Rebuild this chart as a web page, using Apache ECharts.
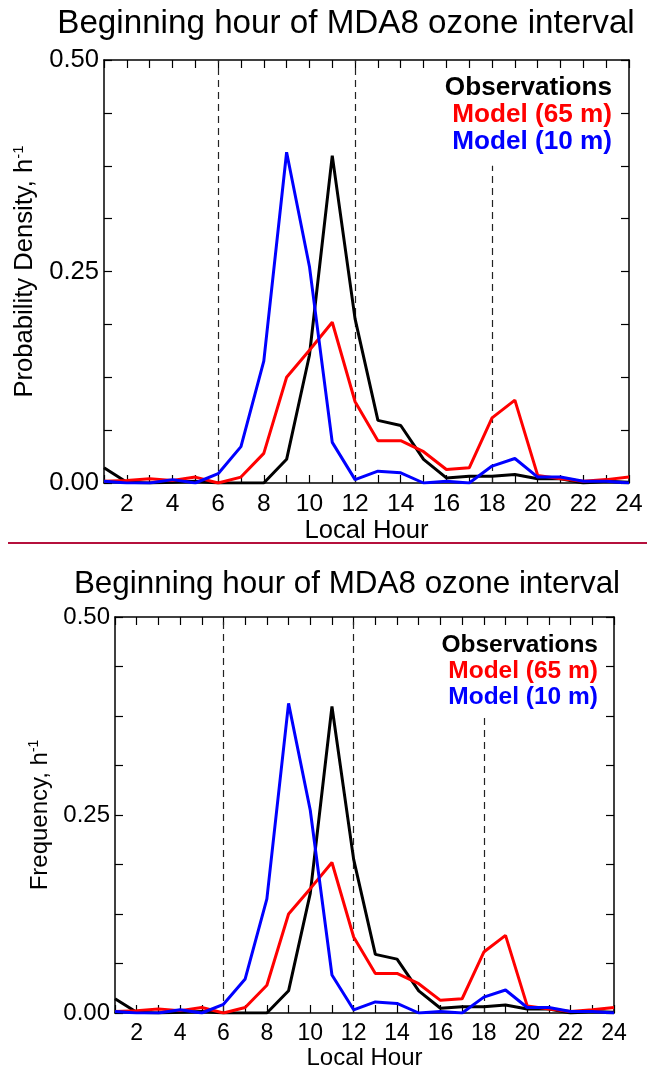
<!DOCTYPE html>
<html>
<head>
<meta charset="utf-8">
<script src="https://cdn.jsdelivr.net/npm/echarts@6/dist/echarts.min.js"></script>
<style>
  html, body { margin: 0; padding: 0; background: #fff; }
  #chart { width: 647px; height: 1081px; }
</style>
</head>
<body>
<div id="chart"></div>
<script>
// data (same values in both panels)
const hours = [1, 2, 3, 4, 5, 6, 7, 8, 9, 10, 11, 12, 13, 14, 15, 16, 17, 18, 19, 20, 21, 22, 23, 24];
const observations = [0.018, 0.001, 0.000, 0.001, 0.002, 0.000, 0.000, 0.000, 0.028, 0.151, 0.387, 0.194, 0.074, 0.068, 0.028, 0.006, 0.008, 0.008, 0.010, 0.005, 0.005, 0.000, 0.002, 0.001];
const model65 = [0.002, 0.003, 0.005, 0.003, 0.007, 0.000, 0.007, 0.035, 0.125, 0.157, 0.190, 0.096, 0.050, 0.050, 0.037, 0.016, 0.018, 0.077, 0.098, 0.009, 0.005, 0.002, 0.004, 0.007];
const model10 = [0.002, 0.000, 0.000, 0.004, 0.000, 0.011, 0.043, 0.144, 0.391, 0.256, 0.048, 0.004, 0.014, 0.012, 0.000, 0.002, 0.000, 0.020, 0.029, 0.007, 0.007, 0.002, 0.002, 0.000];
const dashedHours = [6, 12, 18];
const seriesNames = ["Observations", "Model (65 m)", "Model (10 m)"];
const seriesColors = ["#000000", "#ff0000", "#0000ff"];
const yLabels = ["0.00", "0.25", "0.50"];
const titleText = "Beginning hour of MDA8 ozone interval";
const yNames = ["Probability Density, h{sup|-1}", "Frequency, h{sup|-1}"];

const FONT = "'Liberation Sans', Arial, Helvetica, sans-serif";

// panel geometry (top panel is drawn a little larger than the bottom one)
const panels = [
    { left: 104, top: 60, width: 525, height: 423, s: 1.068, titleX: 346, titleY: 24, titleSize: 33.2,
      legendX: 612, legendY: 88, legendStep: 26.8, xGap: 31, yGap: 64 },
    { left: 115, top: 617, width: 499, height: 396, s: 1.0, titleX: 347, titleY: 584, titleSize: 31.4,
      legendX: 598, legendY: 645, legendStep: 26, xGap: 30, yGap: 51 },
];

function pts(arr) {
    return hours.map((h, i) => [h, arr[i]]);
}

const grids = [];
const xAxes = [];
const yAxes = [];
const series = [];
const graphics = [];

panels.forEach((p, k) => {
    grids.push({ left: p.left, top: p.top, width: p.width, height: p.height });

    const xBase = {
        type: "value",
        gridIndex: k,
        min: 1,
        max: 24,
        interval: 1,
        splitLine: { show: false },
        axisLine: { show: true, onZero: false, lineStyle: { color: "#000", width: 1.5 } },
        axisTick: { show: true, inside: true, length: 8, lineStyle: { color: "#000", width: 1.2 } },
    };
    xAxes.push(Object.assign({}, xBase, {
        position: "bottom",
        name: "Local Hour",
        nameLocation: "middle",
        nameGap: p.xGap,
        nameTextStyle: { fontFamily: FONT, fontSize: 24 * p.s, color: "#000" },
        axisLabel: {
            fontFamily: FONT, fontSize: 23 * p.s, color: "#000", margin: 9,
            formatter: v => (v % 2 === 0 ? String(v) : ""),
        },
    }));
    xAxes.push(Object.assign({}, xBase, { position: "top", axisLabel: { show: false } }));

    const yBase = {
        type: "value",
        gridIndex: k,
        min: 0,
        max: 0.5,
        interval: 0.0625,
        splitLine: { show: false },
        axisLine: { show: true, onZero: false, lineStyle: { color: "#000", width: 1.5 } },
        axisTick: { show: true, inside: true, length: 8, lineStyle: { color: "#000", width: 1.2 } },
    };
    yAxes.push(Object.assign({}, yBase, {
        position: "left",
        name: yNames[k],
        nameLocation: "middle",
        nameGap: p.yGap,
        nameRotate: 90,
        nameTextStyle: {
            fontFamily: FONT, fontSize: 24 * p.s, color: "#000",
            rich: { sup: { fontFamily: FONT, fontSize: 14 * p.s, color: "#000", verticalAlign: "top", padding: [0, 0, 12, 0] } },
        },
        axisLabel: {
            fontFamily: FONT, fontSize: 24 * p.s, color: "#000", margin: 5,
            formatter: v => {
                const idx = Math.round(v / 0.25);
                return Math.abs(v - idx * 0.25) < 1e-9 ? yLabels[idx] : "";
            },
        },
    }));
    yAxes.push(Object.assign({}, yBase, { position: "right", axisLabel: { show: false } }));

    const dataSets = [observations, model65, model10];
    dataSets.forEach((d, i) => {
        const s = {
            name: seriesNames[i] + k,
            type: "line",
            xAxisIndex: k * 2,
            yAxisIndex: k * 2,
            data: pts(d),
            symbol: "none",
            smooth: false,
            lineStyle: { color: seriesColors[i], width: 3 },
            itemStyle: { color: seriesColors[i] },
            z: 3 + i,
            animation: false,
        };
        if (i === 0) {
            s.markLine = {
                silent: true,
                symbol: "none",
                label: { show: false },
                lineStyle: { type: [7, 5], color: "#222", width: 1.2 },
                z: 1,
                data: [
                    { xAxis: dashedHours[0] },
                    { xAxis: dashedHours[1] },
                    [{ coord: [dashedHours[2], 0] }, { coord: [dashedHours[2], 0.375] }],
                ],
            };
        }
        series.push(s);
    });

    graphics.push({
        type: "text",
        x: p.titleX,
        y: p.titleY,
        style: {
            text: titleText, fontFamily: FONT, fontSize: p.titleSize, fill: "#000",
            textAlign: "center", textVerticalAlign: "middle",
        },
    });
    seriesNames.forEach((n, i) => {
        graphics.push({
            type: "text",
            x: p.legendX,
            y: p.legendY + i * p.legendStep,
            style: {
                text: n, fontFamily: FONT, fontSize: 24.5 * p.s, fontWeight: "bold", fill: seriesColors[i],
                textAlign: "right", textVerticalAlign: "middle",
            },
        });
    });
});

// separator between the two panels
graphics.push({
    type: "line",
    shape: { x1: 8, y1: 543, x2: 647, y2: 543 },
    style: { stroke: "#b5103c", lineWidth: 2 },
});

const option = {
    animation: false,
    backgroundColor: "#fff",
    grid: grids,
    xAxis: xAxes,
    yAxis: yAxes,
    series: series,
    graphic: graphics,
};

const myChart = echarts.init(document.getElementById("chart"));
myChart.setOption(option);
</script>
</body>
</html>
